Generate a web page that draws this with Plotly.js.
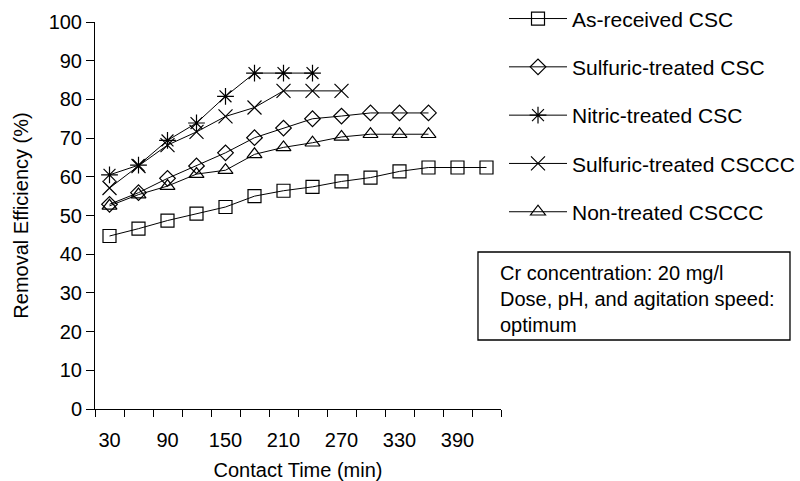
<!DOCTYPE html>
<html>
<head>
<meta charset="utf-8">
<script src="https://cdn.plot.ly/plotly-3.0.1.min.js"></script>
<style>html,body{margin:0;padding:0;background:#fff;}#chart{width:800px;height:481px;}</style>
</head>
<body>
<div id="chart"></div>
<script>
// Contact time categories (min)
const timeAll = [30, 60, 90, 120, 150, 180, 210, 240, 270, 300, 330, 360, 390, 420];
const xTickLabels = [30, 90, 150, 210, 270, 330, 390];
const yTicks = [0, 10, 20, 30, 40, 50, 60, 70, 80, 90, 100];

const asReceivedCSC = [44.7, 46.6, 48.7, 50.5, 52.2, 55.0, 56.4, 57.4, 58.8, 59.8, 61.4, 62.4, 62.4, 62.4];
const sulfuricCSC = [52.9, 55.9, 59.6, 62.8, 66.2, 70.1, 72.6, 75.0, 75.7, 76.5, 76.5, 76.5];
const nitricCSC = [60.5, 63.0, 69.4, 73.9, 80.8, 86.8, 86.8, 86.8];
const sulfuricCSCCC = [57.1, 62.8, 68.2, 71.6, 75.6, 77.9, 82.2, 82.2, 82.2];
const nonTreatedCSCCC = [52.5, 55.4, 57.6, 60.7, 61.7, 65.8, 67.6, 68.8, 70.3, 71.0, 71.0, 71.0];

const seriesNames = ['As-received CSC', 'Sulfuric-treated CSC', 'Nitric-treated CSC', 'Sulfuric-treated CSCCC', 'Non-treated CSCCC'];
const seriesValues = [asReceivedCSC, sulfuricCSC, nitricCSC, sulfuricCSCCC, nonTreatedCSCCC];
const symbols = ['square-open', 'diamond-open', 'asterisk-open', 'x-thin-open', 'triangle-up-open'];
const sizes = [13, 12, 14, 14, 13];

const noteText = 'Cr concentration: 20 mg/l<br>Dose, pH, and agitation speed:<br>optimum';

// category boundaries (for tick marks between categories)
const boundaries = [timeAll[0] - 15].concat(timeAll.map(t => t + 15));

const FONT = 'Liberation Sans, Arial, sans-serif';

const traces = seriesValues.map((vals, i) => ({
  type: 'scatter',
  mode: 'lines+markers',
  name: seriesNames[i],
  x: timeAll.slice(0, vals.length),
  y: vals,
  legendgroup: 'g' + i,
  line: {color: '#000', width: 1},
  marker: {symbol: symbols[i], size: sizes[i], color: '#000', line: {color: '#000', width: 1.2}},
  cliponaxis: false
}));

const xr = [boundaries[0], boundaries[boundaries.length - 1]];

const layout = {
  width: 800, height: 481,
  margin: {l: 95, r: 299, t: 22, b: 72, autoexpand: false},
  paper_bgcolor: '#fff', plot_bgcolor: '#fff',
  font: {family: FONT, size: 20, color: '#000'},
  showlegend: true,
  legend: {
    x: 1.0074, xanchor: 'left', y: 1.061, yanchor: 'top',
    tracegroupgap: 18, itemwidth: 58,
    font: {family: FONT, size: 21, color: '#000'},
    bgcolor: 'rgba(0,0,0,0)'
  },
  xaxis: {
    type: 'linear', range: xr, fixedrange: true,
    showline: true, linecolor: '#000', linewidth: 1,
    showgrid: false, zeroline: false,
    tickmode: 'array', tickvals: xTickLabels, ticktext: xTickLabels.map(String),
    ticks: 'outside', ticklen: 13, tickcolor: 'rgba(0,0,0,0)',
    minor: {tickmode: 'array', tickvals: boundaries, ticks: 'outside', ticklen: 7, tickcolor: '#000', tickwidth: 1, showgrid: false},
    tickfont: {family: FONT, size: 20, color: '#000'},
    title: {text: 'Contact Time (min)', font: {family: FONT, size: 20, color: '#000'}, standoff: 18}
  },
  xaxis2: {
    type: 'linear', range: xr, overlaying: 'x', anchor: 'y', side: 'bottom',
    showline: false, showgrid: false, zeroline: false,
    tickmode: 'array', tickvals: boundaries, ticks: 'inside', ticklen: 7, tickcolor: '#000',
    showticklabels: false
  },
  yaxis: {
    range: [0, 100], fixedrange: true,
    showline: true, linecolor: '#000', linewidth: 1,
    showgrid: false, zeroline: false,
    tickmode: 'array', tickvals: yTicks,
    ticks: 'outside', ticklen: 8, tickcolor: '#000',
    tickfont: {family: FONT, size: 20, color: '#000'},
    title: {text: 'Removal Efficiency (%)', font: {family: FONT, size: 20, color: '#000'}, standoff: 14}
  },
  yaxis2: {
    range: [0, 100], overlaying: 'y', anchor: 'x', side: 'left',
    showline: false, showgrid: false, zeroline: false,
    tickmode: 'array', tickvals: yTicks, ticks: 'inside', ticklen: 8, tickcolor: '#000',
    showticklabels: false
  },
  shapes: [{
    type: 'rect', xref: 'paper', yref: 'paper',
    x0: 0.9433, x1: 1.7118, y0: 0.1783, y1: 0.4057,
    line: {color: '#000', width: 1.3}, fillcolor: 'rgba(0,0,0,0)'
  }],
  annotations: [{
    xref: 'paper', yref: 'paper', x: 0.993, y: 0.2842, xanchor: 'left', yanchor: 'middle',
    text: noteText,
    align: 'left', showarrow: false,
    font: {family: FONT, size: 20, color: '#000'}
  }]
};

Plotly.newPlot('chart', traces, layout, {displayModeBar: false, staticPlot: true});
</script>
</body>
</html>
